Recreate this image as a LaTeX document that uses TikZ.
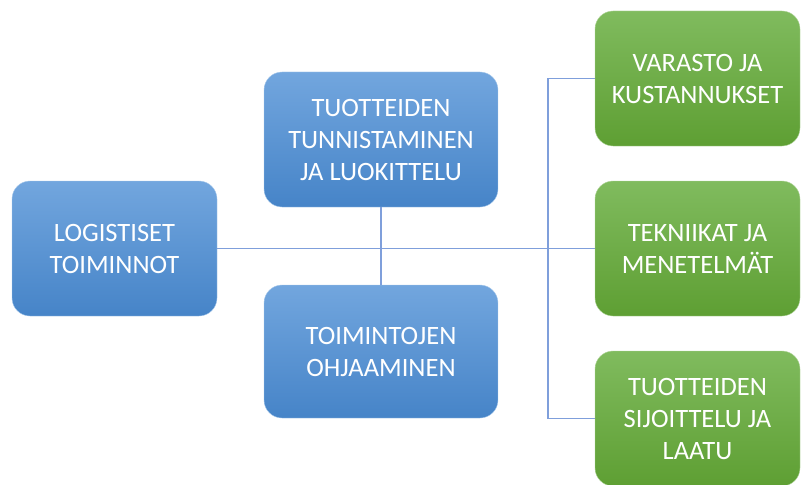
\documentclass[tikz,border=0pt]{standalone}
\usepackage{fontspec}
\setmainfont{Carlito}

\definecolor{boxtopblue}{HTML}{72A6DE}
\definecolor{boxbotblue}{HTML}{4684C8}
\definecolor{boxtopgreen}{HTML}{80BB5E}
\definecolor{boxbotgreen}{HTML}{5E9F33}
\definecolor{linkblue}{HTML}{7F9FDB}

\begin{document}
\begin{tikzpicture}[x=1pt, y=-1pt,
  every node/.style = {shape=rectangle, rounded corners=18pt,
    align=center, text=white, inner sep=0pt,
    font=\fontsize{26.5}{32}\selectfont},
  bluebox/.style = {minimum width=205pt, minimum height=135pt,
    draw=boxtopblue!60!white, top color=boxtopblue, bottom color=boxbotblue},
  greenbox/.style = {minimum width=205pt, minimum height=135pt,
    draw=boxtopgreen!60!white, top color=boxtopgreen, bottom color=boxbotgreen},
  link/.style = {draw=linkblue, line width=1.4pt}]
  \useasboundingbox (0,0) rectangle (802,484);

  % left and middle boxes
  \node [bluebox] (logist) at (114.5,248.5) {LOGISTISET\\TOIMINNOT};
  \node [bluebox, minimum width=234pt] (tunnist) at (381,139.5)
    {TUOTTEIDEN\\TUNNISTAMINEN\\JA LUOKITTELU};
  \node [bluebox, minimum width=234pt, minimum height=133pt] (ohjaus) at (381,351.5)
    {TOIMINTOJEN\\OHJAAMINEN};

  % right boxes
  \node [greenbox] (varasto) at (697.5,78.5) {VARASTO JA\\KUSTANNUKSET};
  \node [greenbox] (tekniikat) at (697.5,248.5) {TEKNIIKAT JA\\MENETELMÄT};
  \node [greenbox] (sijoittelu) at (697.5,418.5)
    {TUOTTEIDEN\\SIJOITTELU JA\\LAATU};

  % connectors
  \coordinate (fork) at (548,248.5);
  \draw [link] (logist.east) -- (tekniikat.west);
  \draw [link] (tunnist.south) -- (ohjaus.north);
  \draw [link] (varasto.west) -| (fork) |- (sijoittelu.west);
\end{tikzpicture}
\end{document}
